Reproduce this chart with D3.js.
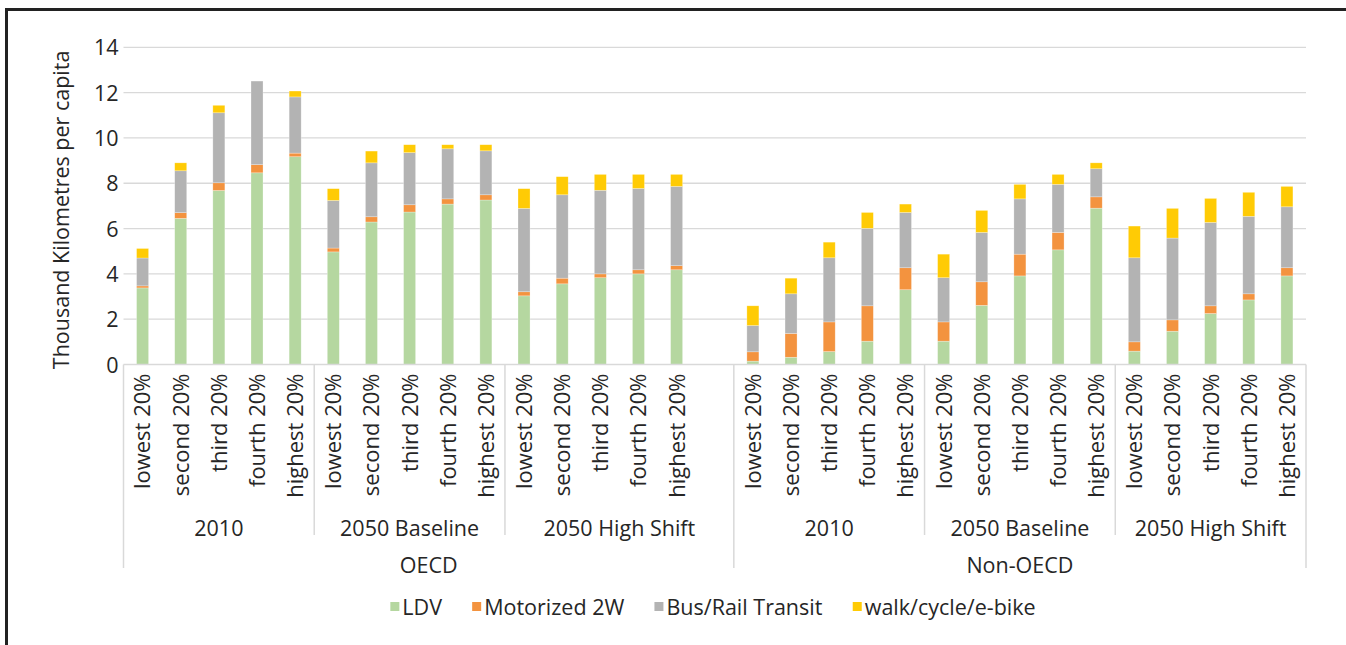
<!DOCTYPE html>
<html>
<head>
<meta charset="utf-8">
<script src="https://cdn.jsdelivr.net/npm/d3@7"></script>
<style>
  html, body { margin: 0; padding: 0; background: #fff; }
  svg { display: block; }
  text { font-family: "Open Sans", sans-serif; fill: #262626; }
</style>
</head>
<body>
<svg id="chart" width="1346" height="645"></svg>
<script>
// ---------- data ----------
const regions = ["OECD", "Non-OECD"];
const scenarios = ["2010", "2050 Baseline", "2050 High Shift"];
const quintiles = ["lowest 20%", "second 20%", "third 20%", "fourth 20%", "highest 20%"];
const seriesNames = ["LDV", "Motorized 2W", "Bus/Rail Transit", "walk/cycle/e-bike"];
const seriesColors = ["#b5d7a0", "#f3933f", "#b3b3b3", "#ffcb05"];
const yTicks = [0, 2, 4, 6, 8, 10, 12, 14];

// order: OECD (2010, Baseline, High Shift) then Non-OECD (2010, Baseline, High Shift), 5 quintiles each
const ldv = [
  3.38, 6.45, 7.68, 8.46, 9.17,
  4.97, 6.29, 6.73, 7.08, 7.26,
  3.03, 3.56, 3.83, 4.00, 4.18,
  0.15, 0.32, 0.57, 1.03, 3.30,
  1.03, 2.61, 3.91, 5.06, 6.90,
  0.59, 1.47, 2.25, 2.85, 3.91
];
const moto2w = [
  0.09, 0.25, 0.34, 0.36, 0.16,
  0.17, 0.23, 0.32, 0.23, 0.23,
  0.18, 0.25, 0.17, 0.18, 0.18,
  0.41, 1.05, 1.31, 1.56, 0.97,
  0.85, 1.04, 0.96, 0.77, 0.50,
  0.41, 0.50, 0.34, 0.27, 0.36
];
const transit = [
  1.23, 1.85, 3.09, 3.69, 2.48,
  2.10, 2.38, 2.30, 2.21, 1.94,
  3.68, 3.68, 3.69, 3.59, 3.50,
  1.16, 1.75, 2.83, 3.42, 2.44,
  1.95, 2.18, 2.44, 2.12, 1.24,
  3.71, 3.61, 3.68, 3.42, 2.69
];
const walk = [
  0.42, 0.35, 0.33, 0.00, 0.26,
  0.52, 0.52, 0.35, 0.18, 0.27,
  0.87, 0.80, 0.70, 0.62, 0.53,
  0.87, 0.69, 0.69, 0.70, 0.37,
  1.04, 0.97, 0.64, 0.44, 0.26,
  1.40, 1.31, 1.06, 1.06, 0.90
];

// ---------- build table ----------
const rows = [];
const keys = [];
let idx = 0;
regions.forEach((r, ri) => {
  scenarios.forEach((s) => {
    quintiles.forEach((q) => {
      const key = r + "|" + s + "|" + q;
      keys.push(key);
      rows.push({ key, region: r, scenario: s, quintile: q,
        "LDV": ldv[idx], "Motorized 2W": moto2w[idx],
        "Bus/Rail Transit": transit[idx], "walk/cycle/e-bike": walk[idx] });
      idx++;
    });
  });
  if (ri === 0) keys.push("gap"); // blank category between regions
});

// ---------- layout ----------
const svg = d3.select("#chart");
const plotLeft = 123.5, plotRight = 1306, plotTop = 47.3, plotBottom = 364.5;
const pad = 0.685;
const x = d3.scaleBand().domain(keys).range([plotLeft, plotRight]).paddingInner(pad).paddingOuter(pad / 2);
const y = d3.scaleLinear().domain([0, 14]).range([plotBottom, plotTop]);
const step = x.step();
const boundary = k => x(k) - step * pad / 2;

// frame (top and left edges)
svg.append("line").attr("x1", 6).attr("x2", 1346).attr("y1", 9.5).attr("y2", 9.5)
  .attr("stroke", "#222").attr("stroke-width", 3);
svg.append("line").attr("x1", 6.5).attr("x2", 6.5).attr("y1", 8).attr("y2", 645)
  .attr("stroke", "#222").attr("stroke-width", 3);

// gridlines
svg.append("g").selectAll("line").data(yTicks.filter(t => t > 0)).join("line")
  .attr("x1", plotLeft).attr("x2", plotRight)
  .attr("y1", d => y(d)).attr("y2", d => y(d))
  .attr("stroke", "#d9d9d9").attr("stroke-width", 1.3);

// y axis
const yAxis = d3.axisLeft(y).tickValues(yTicks).tickSize(0).tickPadding(0);
const gy = svg.append("g").attr("transform", `translate(${plotLeft - 5},0)`).call(yAxis);
gy.select(".domain").remove();
gy.selectAll("text").attr("font-size", 21.5).attr("font-family", "Open Sans, sans-serif")
  .attr("fill", "#262626").attr("dy", "0.35em");

svg.append("text")
  .attr("transform", `translate(69,${(plotTop + plotBottom) / 2 + 4}) rotate(-90)`)
  .attr("text-anchor", "middle").attr("font-size", 21.5)
  .text("Thousand Kilometres per capita");

// stacked bars
const stack = d3.stack().keys(seriesNames);
const stacked = stack(rows);
const color = d3.scaleOrdinal().domain(seriesNames).range(seriesColors);
svg.append("g").selectAll("g").data(stacked).join("g")
  .attr("fill", d => color(d.key))
  .selectAll("rect").data(d => d).join("rect")
  .attr("x", d => x(d.data.key))
  .attr("width", x.bandwidth())
  .attr("y", d => y(d[1]))
  .attr("height", d => Math.max(0, y(d[0]) - y(d[1])))
  .attr("stroke", "#ffffff").attr("stroke-opacity", 0.45).attr("stroke-width", 0.6);

// x axis line
svg.append("line").attr("x1", plotLeft).attr("x2", plotRight).attr("y1", plotBottom).attr("y2", plotBottom)
  .attr("stroke", "#d9d9d9").attr("stroke-width", 1.5);

// level-1 tick labels (rotated)
const xAxis = d3.axisBottom(x).tickValues(rows.map(r => r.key))
  .tickFormat(k => k.split("|")[2]).tickSize(0).tickPadding(0);
const gx = svg.append("g").attr("transform", `translate(0,${plotBottom})`).call(xAxis);
gx.select(".domain").remove();
gx.selectAll("text")
  .attr("font-size", 22).attr("font-family", "Open Sans, sans-serif").attr("fill", "#262626")
  .attr("transform", "rotate(-90)")
  .attr("text-anchor", "end")
  .attr("x", -9).attr("y", 0).attr("dy", "0.36em");

// separators and group labels
const sepColor = "#d9d9d9";
const groupEnds = [];
regions.forEach((r, ri) => {
  const rKeys = rows.filter(d => d.region === r).map(d => d.key);
  const rStart = boundary(rKeys[0]);
  const rEnd = ri === 0 ? boundary("gap") + step : plotRight;
  scenarios.forEach((s, si) => {
    const sKeys = rows.filter(d => d.region === r && d.scenario === s).map(d => d.key);
    const sStart = boundary(sKeys[0]);
    const sEnd = si === scenarios.length - 1 ? rEnd : boundary(sKeys[sKeys.length - 1]) + step;
    if (si > 0) {
      svg.append("line").attr("x1", sStart).attr("x2", sStart)
        .attr("y1", plotBottom).attr("y2", 535)
        .attr("stroke", sepColor).attr("stroke-width", 1.5);
    }
    svg.append("text").attr("x", (sStart + sEnd) / 2).attr("y", 536)
      .attr("text-anchor", "middle").attr("font-size", 21.5).text(s);
  });
  groupEnds.push(rStart);
  if (ri === regions.length - 1) groupEnds.push(rEnd);
  svg.append("text").attr("x", (rStart + rEnd) / 2).attr("y", 573)
    .attr("text-anchor", "middle").attr("font-size", 21.5).text(r);
});
svg.append("g").selectAll("line").data(groupEnds).join("line")
  .attr("x1", d => d).attr("x2", d => d).attr("y1", plotBottom).attr("y2", 568)
  .attr("stroke", sepColor).attr("stroke-width", 1.5);

// legend
const legend = svg.append("g");
const items = legend.selectAll("g").data(seriesNames).join("g");
items.append("rect").attr("width", 9).attr("height", 9).attr("y", -5)
  .attr("fill", d => color(d));
items.append("text").attr("x", 12).attr("y", 0).attr("dy", "0.36em")
  .attr("font-size", 21.5).text(d => d);
let cx = 0;
const gap = 30;
items.each(function () {
  const w = this.getBBox().width;
  d3.select(this).attr("data-x", cx);
  cx += w + gap;
});
const total = cx - gap;
const startX = 713 - total / 2;
items.attr("transform", function () {
  return `translate(${startX + (+d3.select(this).attr("data-x"))},607)`;
});
</script>
</body>
</html>
